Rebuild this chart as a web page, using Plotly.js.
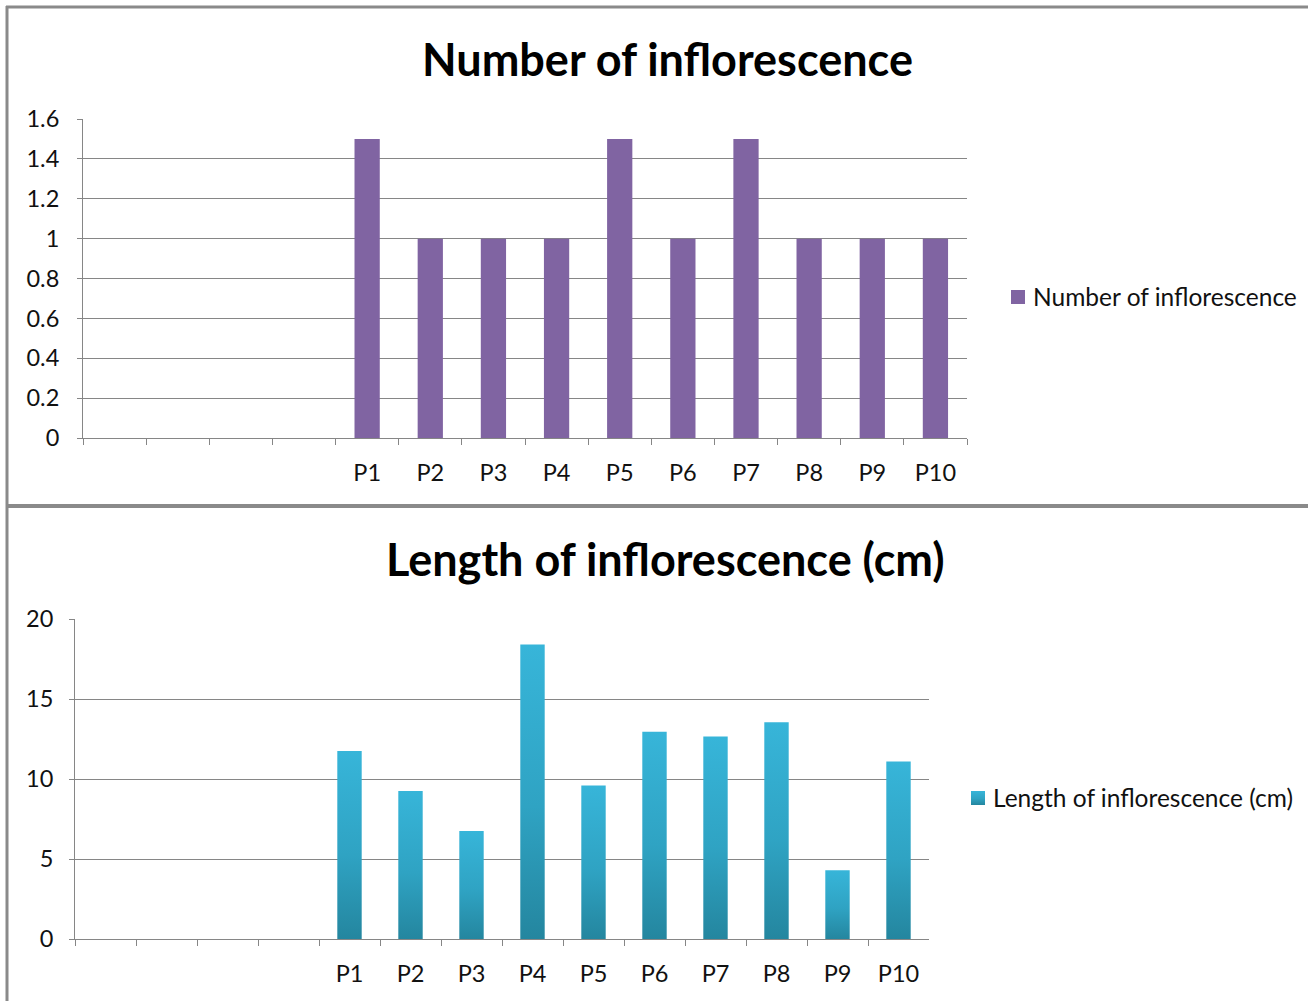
<!DOCTYPE html>
<html>
<head>
<meta charset="utf-8">
<script src="https://cdn.plot.ly/plotly-3.0.1.min.js"></script>
<style>
  html, body { margin: 0; padding: 0; background: #ffffff; }
  #chart { width: 1308px; height: 1001px; }
</style>
</head>
<body>
<div id="chart"></div>
<script>
// ---- Data ----
const slots = ['s1', 's2', 's3', 's4', 'P1', 'P2', 'P3', 'P4', 'P5', 'P6', 'P7', 'P8', 'P9', 'P10'];
const slotLabels = ['', '', '', '', 'P1', 'P2', 'P3', 'P4', 'P5', 'P6', 'P7', 'P8', 'P9', 'P10'];
const numberOfInflorescence = [null, null, null, null, 1.5, 1, 1, 1, 1.5, 1, 1.5, 1, 1, 1];
const lengthOfInflorescence = [null, null, null, null, 11.75, 9.25, 6.75, 18.4, 9.6, 12.95, 12.65, 13.55, 4.3, 11.1];
const topTitle = 'Number of inflorescence';
const bottomTitle = 'Length of inflorescence (cm)';

// ---- Layout helpers (pixel -> paper) ----
const W = 1308, H = 1001;
const px = v => v / W;
const py = v => 1 - v / H;

const FONT = 'Lato, "Open Sans", sans-serif';
const GRID = '#868686';
const BORDER = '#8a8a8a';
const LEN_BASE = '#2ea3c4';
const TXT = '#111111';

const traces = [
  {
    type: 'bar', x: slots, y: numberOfInflorescence, name: topTitle,
    xaxis: 'x', yaxis: 'y', legend: 'legend',
    marker: { color: '#8064a2', line: { width: 0 } },
    hoverinfo: 'skip'
  },
  {
    type: 'bar', x: slots, y: lengthOfInflorescence, name: bottomTitle,
    xaxis: 'x2', yaxis: 'y2', legend: 'legend2',
    marker: { color: LEN_BASE, line: { width: 0 } },
    hoverinfo: 'skip'
  }
];

const xCommon = {
  type: 'category', categoryorder: 'array', categoryarray: slots,
  tickmode: 'array', tickvals: slots, ticktext: slotLabels,
  tickson: 'boundaries', ticks: 'outside', ticklen: 6, tickwidth: 1, tickcolor: GRID,
  showline: true, linecolor: GRID, linewidth: 1, showgrid: false, zeroline: false,
  tickfont: { family: FONT, size: 23.5, color: TXT },
  ticklabelstandoff: 14, fixedrange: true
};
const yCommon = {
  showgrid: true, gridcolor: GRID, gridwidth: 1,
  showline: true, linecolor: GRID, linewidth: 1,
  ticks: 'outside', ticklen: 5, tickcolor: GRID, zeroline: false,
  tickfont: { family: FONT, size: 23.5, color: TXT },
  ticklabelstandoff: 13, fixedrange: true
};

const layout = {
  width: W, height: H,
  margin: { l: 0, r: 0, t: 0, b: 0, pad: 0 },
  paper_bgcolor: '#ffffff', plot_bgcolor: '#ffffff',
  bargap: 0.6,
  showlegend: true,
  xaxis: Object.assign({}, xCommon, { domain: [px(83), px(967)], anchor: 'y' }),
  yaxis: Object.assign({}, yCommon, { domain: [py(438), py(119)], range: [0, 1.6], dtick: 0.2, anchor: 'x' }),
  xaxis2: Object.assign({}, xCommon, { domain: [px(75), px(929)], anchor: 'y2' }),
  yaxis2: Object.assign({}, yCommon, { domain: [py(939), py(619)], range: [0, 20], dtick: 5, anchor: 'x2', ticklabelstandoff: 11 }),
  legend: {
    x: px(993), y: py(297), xanchor: 'left', yanchor: 'middle',
    bgcolor: 'rgba(0,0,0,0)', borderwidth: 0,
    font: { family: FONT, size: 24.5, color: TXT }
  },
  legend2: {
    x: px(953), y: py(798), xanchor: 'left', yanchor: 'middle',
    bgcolor: 'rgba(0,0,0,0)', borderwidth: 0,
    font: { family: FONT, size: 24.5, color: TXT }
  },
  annotations: [
    {
      text: '<b>' + topTitle + '</b>', xref: 'paper', yref: 'paper',
      x: px(667), y: py(59), xanchor: 'center', yanchor: 'middle', showarrow: false,
      font: { family: FONT, size: 45, color: '#000000' }
    },
    {
      text: '<b>' + bottomTitle + '</b>', xref: 'paper', yref: 'paper',
      x: px(666), y: py(559), xanchor: 'center', yanchor: 'middle', showarrow: false,
      font: { family: FONT, size: 45, color: '#000000' }
    }
  ],
  shapes: [
    { type: 'line', xref: 'paper', yref: 'paper', x0: px(7), x1: px(7), y0: py(6), y1: py(1001), line: { color: BORDER, width: 3 } },
    { type: 'line', xref: 'paper', yref: 'paper', x0: px(6), x1: px(1308), y0: py(7), y1: py(7), line: { color: BORDER, width: 3 } },
    { type: 'line', xref: 'paper', yref: 'paper', x0: px(6), x1: px(1308), y0: py(506), y1: py(506), line: { color: BORDER, width: 4 } }
  ]
};

Plotly.newPlot('chart', traces, layout, { displayModeBar: false, staticPlot: true }).then(gd => {
  // vertical gradient on the length bars (Excel-style fill)
  const svg = gd.querySelector('svg.main-svg');
  const ns = 'http://www.w3.org/2000/svg';
  let defs = svg.querySelector('defs');
  if (!defs) { defs = document.createElementNS(ns, 'defs'); svg.insertBefore(defs, svg.firstChild); }
  const grad = document.createElementNS(ns, 'linearGradient');
  grad.setAttribute('id', 'lenGrad');
  grad.setAttribute('x1', '0'); grad.setAttribute('y1', '0');
  grad.setAttribute('x2', '0'); grad.setAttribute('y2', '1');
  [['0%', '#37b5d9'], ['55%', '#2fa3c3'], ['100%', '#24869f']].forEach(([o, c]) => {
    const s = document.createElementNS(ns, 'stop');
    s.setAttribute('offset', o); s.setAttribute('stop-color', c);
    grad.appendChild(s);
  });
  defs.appendChild(grad);
  const target = 'rgb(46, 163, 196)';
  gd.querySelectorAll('path').forEach(p => {
    if (p.style.fill === target) p.style.fill = 'url(#lenGrad)';
  });
  // Excel-like legend keys: slightly larger square, closer to the text
  gd.querySelectorAll('.legendpoints path').forEach(p => {
    p.setAttribute('d', 'M7,7H-7V-7H7Z');
    p.setAttribute('transform', 'translate(25,0)');
  });
});
</script>
</body>
</html>
